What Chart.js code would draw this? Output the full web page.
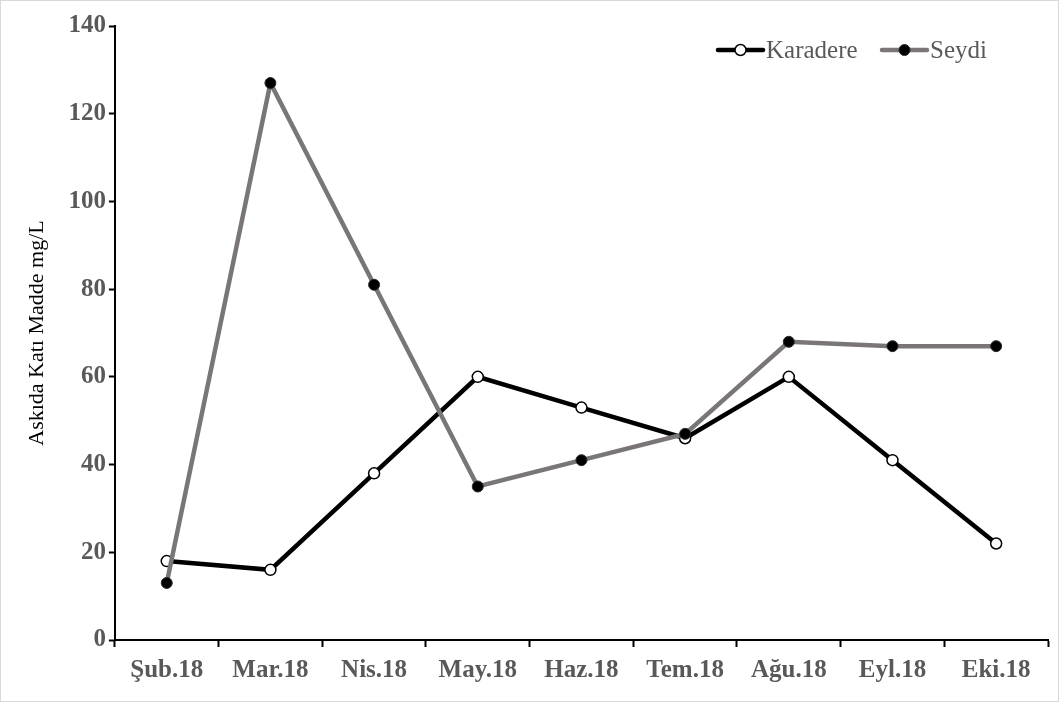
<!DOCTYPE html>
<html>
<head>
<meta charset="utf-8">
<script src="https://cdn.jsdelivr.net/npm/chart.js@4"></script>
<style>
  html, body { margin: 0; padding: 0; background: #fff; }
  #kutu { width: 1059px; height: 702px; box-sizing: border-box; border: 1px solid #d9d9d9; }
  canvas { display: block; }
</style>
</head>
<body>
<div id="kutu"><canvas id="grafik" width="1057" height="700"></canvas></div>
<script>
const aylar = ["Şub.18", "Mar.18", "Nis.18", "May.18", "Haz.18", "Tem.18", "Ağu.18", "Eyl.18", "Eki.18"];
const karadere = [18, 16, 38, 60, 53, 46, 60, 41, 22];
const seydi = [13, 127, 81, 35, 41, 47, 68, 67, 67];
const yTikler = [0, 20, 40, 60, 80, 100, 120, 140];

const SERIF = "'Liberation Serif', 'Times New Roman', serif";
const GRI_YAZI = "#595959";
const GRI_CIZGI = "#7a7676";

// Sağ üstteki gösterge, çizim alanının içine elle çiziliyor
const gostergePlugin = {
    id: "gosterge",
    afterDraw(chart) {
        const ctx = chart.ctx;
        const y = 49;
        const ogeler = [{ ds: chart.data.datasets[0], x: 717 }, { ds: chart.data.datasets[1], x: 881 }];
        ctx.save();
        ogeler.forEach(o => {
            ctx.strokeStyle = o.ds.borderColor;
            ctx.lineWidth = o.ds.borderWidth;
            ctx.lineCap = "round";
            ctx.beginPath();
            ctx.moveTo(o.x, y);
            ctx.lineTo(o.x + 45, y);
            ctx.stroke();
            ctx.beginPath();
            ctx.arc(o.x + 22.5, y, o.ds.pointRadius, 0, Math.PI * 2);
            ctx.fillStyle = o.ds.pointBackgroundColor;
            ctx.fill();
            ctx.lineWidth = o.ds.pointBorderWidth;
            ctx.strokeStyle = o.ds.pointBorderColor;
            ctx.stroke();
            ctx.fillStyle = GRI_YAZI;
            ctx.font = "25px " + SERIF;
            ctx.textBaseline = "middle";
            ctx.fillText(o.ds.label, o.x + 48, y + 1);
        });
        ctx.restore();
    }
};

const ctx = document.getElementById("grafik").getContext("2d");
new Chart(ctx, {
    type: "line",
    data: {
        labels: aylar,
        datasets: [
            {
                label: "Karadere",
                data: karadere,
                borderColor: "#000000",
                borderWidth: 4.5,
                pointRadius: 5.5,
                pointBackgroundColor: "#ffffff",
                pointBorderColor: "#000000",
                pointBorderWidth: 1.5,
                tension: 0,
                order: 2
            },
            {
                label: "Seydi",
                data: seydi,
                borderColor: GRI_CIZGI,
                borderWidth: 4.5,
                pointRadius: 5.5,
                pointBackgroundColor: "#000000",
                pointBorderColor: "#2a2a2a",
                pointBorderWidth: 1,
                tension: 0,
                order: 1
            }
        ]
    },
    options: {
        responsive: false,
        animation: false,
        layout: { padding: { top: 25, right: 10, bottom: 6, left: 23 } },
        plugins: { legend: { display: false }, tooltip: { enabled: false } },
        scales: {
            x: {
                offset: true,
                grid: { drawOnChartArea: false, offset: true, color: "#000", tickLength: 7, tickWidth: 2 },
                border: { color: "#000", width: 2 },
                ticks: { color: GRI_YAZI, font: { family: SERIF, size: 25, weight: "bold" }, padding: 9, maxRotation: 0 }
            },
            y: {
                min: 0,
                max: 140,
                afterBuildTicks: axis => { axis.ticks = yTikler.map(v => ({ value: v })); },
                grid: { drawOnChartArea: false, color: "#000", tickLength: 6, tickWidth: 2 },
                border: { color: "#000", width: 2 },
                ticks: { color: GRI_YAZI, font: { family: SERIF, size: 25, weight: "bold" }, padding: 3 },
                title: {
                    display: true,
                    text: "Askıda Katı Madde mg/L",
                    color: "#000",
                    font: { family: SERIF, size: 22 },
                    padding: { top: 0, bottom: 15 }
                }
            }
        }
    },
    plugins: [gostergePlugin]
});
</script>
</body>
</html>
